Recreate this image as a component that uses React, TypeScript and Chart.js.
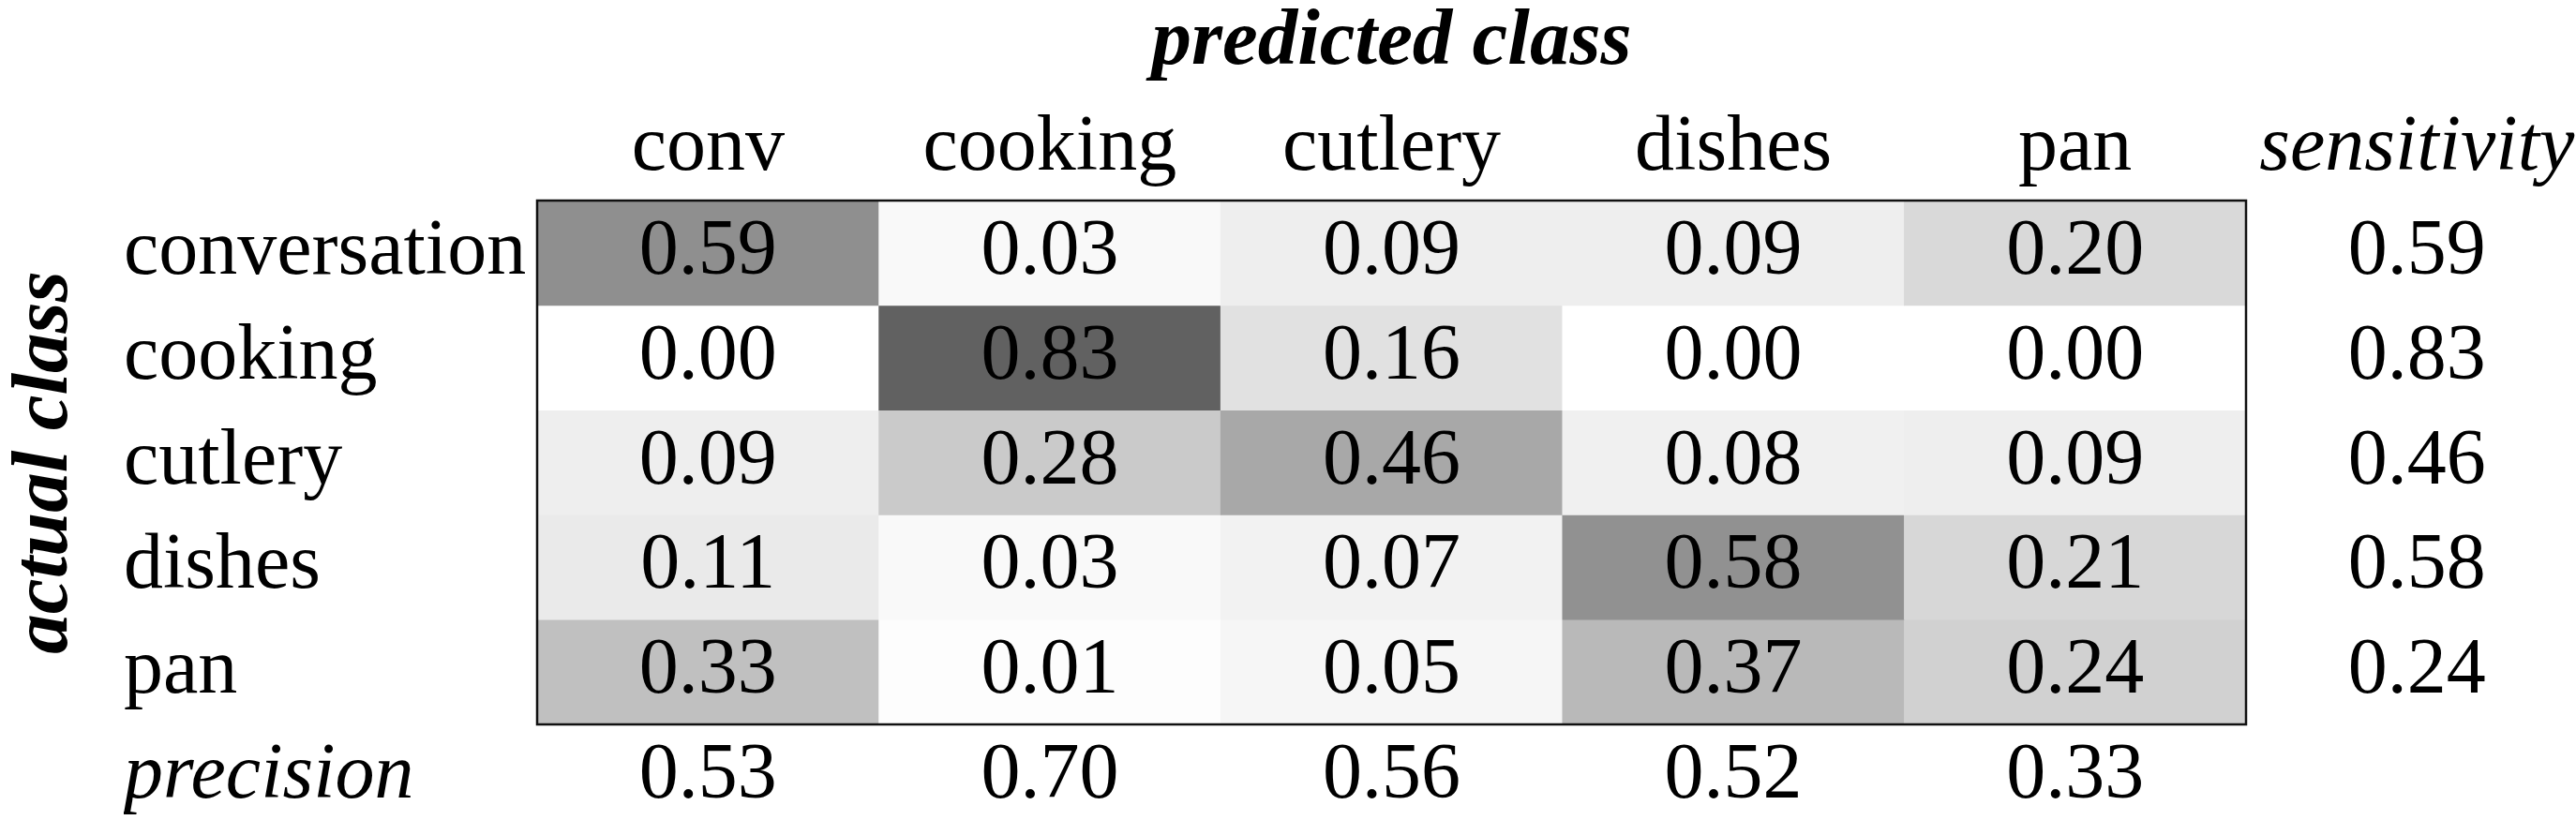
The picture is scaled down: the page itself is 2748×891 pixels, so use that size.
import React, { useEffect, useRef } from 'react';
import { Chart, registerables } from 'chart.js';

Chart.register(...registerables);

// ---- data ----
const predictedLabels = ['conv', 'cooking', 'cutlery', 'dishes', 'pan'];
const actualLabels = ['conversation', 'cooking', 'cutlery', 'dishes', 'pan'];
const rowConversation = [0.59, 0.03, 0.09, 0.09, 0.2];
const rowCooking = [0.0, 0.83, 0.16, 0.0, 0.0];
const rowCutlery = [0.09, 0.28, 0.46, 0.08, 0.09];
const rowDishes = [0.11, 0.03, 0.07, 0.58, 0.21];
const rowPan = [0.33, 0.01, 0.05, 0.37, 0.24];
const sensitivity = [0.59, 0.83, 0.46, 0.58, 0.24];
const precision = [0.53, 0.7, 0.56, 0.52, 0.33];
const sensitivityLabel = 'sensitivity';
const precisionLabel = 'precision';
const xTitle = 'predicted class';
const yTitle = 'actual class';

const matrix = [rowConversation, rowCooking, rowCutlery, rowDishes, rowPan];
const xTickLabels = [...predictedLabels, sensitivityLabel];
const yTickLabels = [...actualLabels, precisionLabel];

const FAMILY = '"Liberation Serif", "Times New Roman", Times, serif';
const W = 2748;
const H = 891;

function grayFor(v: number): string {
  const g = Math.round(255 * (1 - 0.745 * v));
  return `rgb(${g},${g},${g})`;
}

const cellTextPlugin = {
  id: 'cellText',
  afterDatasetsDraw(chart: any) {
    const { ctx, chartArea, scales } = chart;
    const x = scales.x;
    const y = scales.y;
    ctx.save();
    ctx.font = `84px ${FAMILY}`;
    ctx.fillStyle = '#000';
    ctx.textAlign = 'center';
    ctx.textBaseline = 'middle';
    matrix.forEach((row, r) =>
      row.forEach((v, c) => {
        ctx.fillText(v.toFixed(2), x.getPixelForValue(c + 0.5), y.getPixelForValue(r + 0.5));
      })
    );
    sensitivity.forEach((v, r) => {
      ctx.fillText(v.toFixed(2), x.getPixelForValue(5.5), y.getPixelForValue(r + 0.5));
    });
    precision.forEach((v, c) => {
      ctx.fillText(v.toFixed(2), x.getPixelForValue(c + 0.5), y.getPixelForValue(5.5));
    });
    ctx.strokeStyle = '#111';
    ctx.lineWidth = 2.5;
    ctx.strokeRect(chartArea.left, chartArea.top, chartArea.right - chartArea.left, chartArea.bottom - chartArea.top);
    ctx.restore();
  },
};

export default function App() {
  const canvasRef = useRef<HTMLCanvasElement | null>(null);

  useEffect(() => {
    document.body.style.margin = '0';
    document.body.style.overflow = 'hidden';
    const canvas = canvasRef.current;
    if (!canvas) return;

    const tickFont = (ctx: any) => ({
      family: FAMILY,
      size: 84,
      style: ctx.index === 5 ? 'italic' : 'normal',
      weight: 'normal',
      lineHeight: 1.2,
    });

    const chart = new Chart(canvas, {
      type: 'bar',
      data: {
        datasets: matrix.map((row, r) => ({
          label: actualLabels[r],
          data: row.map((_v, c) => ({ x: c + 0.5, y: [r, r + 1] })),
          backgroundColor: row.map((v) => grayFor(v)),
          borderWidth: 0,
          borderSkipped: false,
          grouped: false,
          barPercentage: 1,
          categoryPercentage: 1,
        })) as any,
      },
      options: {
        responsive: false,
        animation: false,
        devicePixelRatio: 1,
        layout: { padding: { left: 0, top: 0, right: 352, bottom: 118 } },
        plugins: { legend: { display: false }, tooltip: { enabled: false } },
        scales: {
          x: {
            type: 'linear',
            position: 'top',
            min: 0,
            max: 5,
            offset: false,
            grid: { display: false, drawTicks: false, offset: false },
            border: { display: false },
            afterBuildTicks: (s: any) => {
              s.ticks = xTickLabels.map((_l, i) => ({ value: i + 0.5 }));
            },
            afterFit: (s: any) => {
              s.height = 214;
              s.paddingLeft = 0;
              s.paddingRight = 0;
            },
            ticks: {
              autoSkip: false,
              maxRotation: 0,
              minRotation: 0,
              padding: 5,
              color: '#000',
              font: tickFont,
              callback: (_v: any, i: number) => xTickLabels[i],
            },
            title: {
              display: true,
              text: xTitle,
              color: '#000',
              font: { family: FAMILY, size: 85, weight: 'bold', style: 'italic', lineHeight: 1 },
              padding: { top: 4, bottom: 0 },
            },
          },
          y: {
            type: 'linear',
            position: 'left',
            reverse: true,
            min: 0,
            max: 5,
            grid: { display: false, drawTicks: false },
            border: { display: false },
            afterBuildTicks: (s: any) => {
              s.ticks = yTickLabels.map((_l, i) => ({ value: i + 0.5 }));
            },
            afterFit: (s: any) => {
              s.width = 441;
              s.paddingTop = 0;
              s.paddingBottom = 0;
            },
            ticks: {
              autoSkip: false,
              crossAlign: 'far',
              padding: 0,
              color: '#000',
              font: tickFont,
              callback: (_v: any, i: number) => yTickLabels[i],
            },
          },
          y2: {
            type: 'linear',
            position: 'left',
            weight: 1,
            display: true,
            min: 0,
            max: 1,
            grid: { display: false, drawTicks: false },
            border: { display: false },
            ticks: { display: false },
            afterFit: (s: any) => {
              s.width = 132;
            },
            title: {
              display: true,
              text: yTitle,
              color: '#000',
              font: { family: FAMILY, size: 85, weight: 'bold', style: 'italic', lineHeight: 1 },
              padding: { top: 7, bottom: 0 },
            },
          },
        } as any,
      },
      plugins: [cellTextPlugin],
    });

    return () => chart.destroy();
  }, []);

  return (
    <div style={{ width: W, height: H, overflow: 'hidden', background: '#fff' }}>
      <canvas ref={canvasRef} width={W} height={H} style={{ display: 'block', width: W, height: H }} />
    </div>
  );
}
